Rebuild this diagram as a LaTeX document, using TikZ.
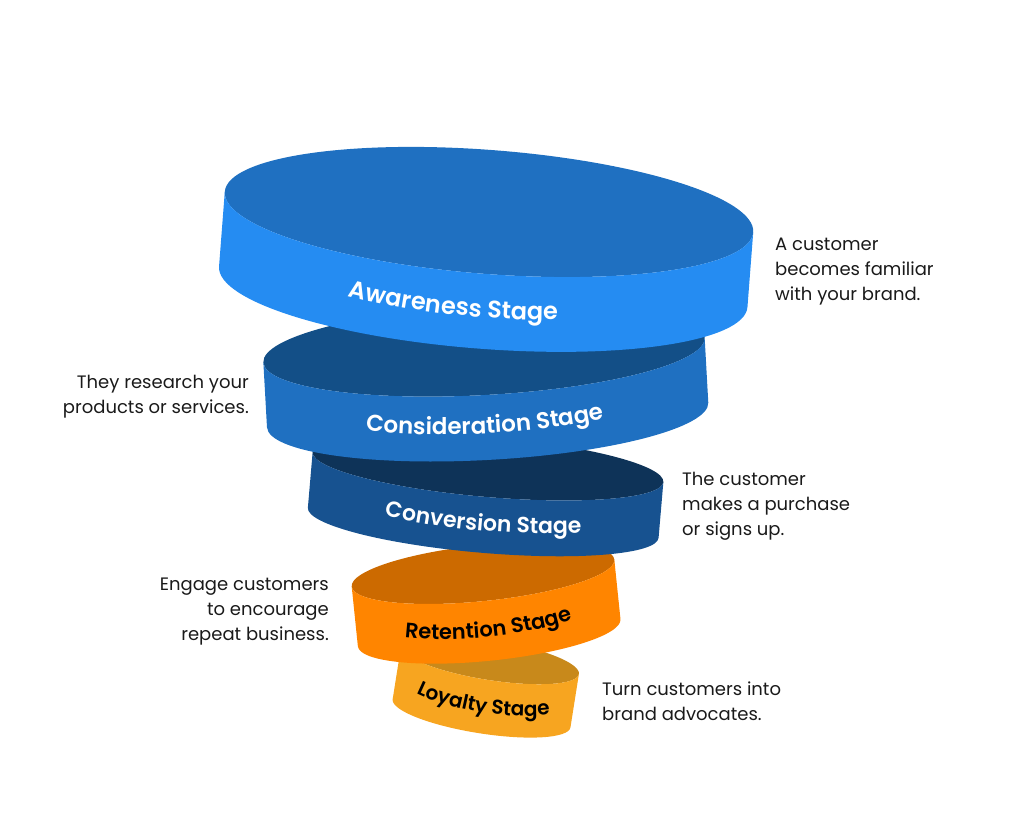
\documentclass[tikz,border=0pt]{standalone}
\usepackage{fontspec}
\setmainfont{Poppins}
\newfontfamily\stagefont{Poppins SemiBold}
\usepackage{tikz}
\usetikzlibrary{decorations.text}
\definecolor{awtop}{HTML}{1F70C1}
\definecolor{awband}{HTML}{258CF2}
\definecolor{cotop}{HTML}{134F87}
\definecolor{coband}{HTML}{1F70C1}
\definecolor{cvtop}{HTML}{0E3358}
\definecolor{cvband}{HTML}{175290}
\definecolor{retop}{HTML}{CC6A00}
\definecolor{reband}{HTML}{FF8500}
\definecolor{lotop}{HTML}{C8891B}
\definecolor{loband}{HTML}{F7A520}
\definecolor{desccol}{HTML}{1A1A1A}
\def\bandlabel#1#2{|\stagefont\fontsize{#1}{#1}\selectfont\color{#2}|}
\newcommand{\stagedisk}[9]{%
  \begin{scope}[shift={#1}, rotate=#2]
    \fill[#6] (0,0) ellipse[x radius=#3, y radius=#4];
    \fill[#7] (-#3,0) arc[start angle=180, end angle=360, x radius=#3, y radius=#4]
      -- (#3,-#5) arc[start angle=0, end angle=-180, x radius=#3, y radius=#4] -- cycle;
    \path[decorate, decoration={text along path, text align=center, text={#9}}]
      (0,-#5/2-6+0.25*#4) ++(#8:#3 and 1.25*#4) arc[start angle=#8, delta angle=140, x radius=#3, y radius=1.25*#4];
  \end{scope}}

\begin{document}
\begin{tikzpicture}[x=1pt, y=1pt,
    desc/.style={inner sep=0, text=desccol, font=\fontsize{18}{25}\selectfont}]
    \useasboundingbox (0,0) rectangle (1024,-813);
    \stagedisk{(490,-660)}{-9}{90}{20}{54}{lotop}{loband}{200}{\bandlabel{20}{black}Loyalty Stage}
    \stagedisk{(483,-573)}{5.9}{132}{28}{60}{retop}{reband}{200}{\bandlabel{21}{black}Retention Stage}
    \stagedisk{(488,-467)}{-4.9}{176}{30}{56}{cvtop}{cvband}{200}{\bandlabel{22}{white}Conversion Stage}
    \stagedisk{(484,-350)}{3.2}{221}{45}{65}{cotop}{coband}{198}{\bandlabel{23}{white}Consideration Stage}
    \stagedisk{(489,-212)}{-4.4}{265}{62}{75}{awtop}{awband}{186}{\bandlabel{24}{white}Awareness Stage}
    \node[desc, anchor=west, align=left] (awtext) at (775,-272) {A customer\\becomes familiar\\with your brand.};
    \node[desc, anchor=east, align=right] (cotext) at (249,-397) {They research your\\products or services.};
    \node[desc, anchor=west, align=left] (cvtext) at (682,-506) {The customer\\makes a purchase\\or signs up.};
    \node[desc, anchor=east, align=right] (retext) at (329,-612) {Engage customers\\to encourage\\repeat business.};
    \node[desc, anchor=west, align=left] (lotext) at (602,-701) {Turn customers into\\brand advocates.};
\end{tikzpicture}
\end{document}
